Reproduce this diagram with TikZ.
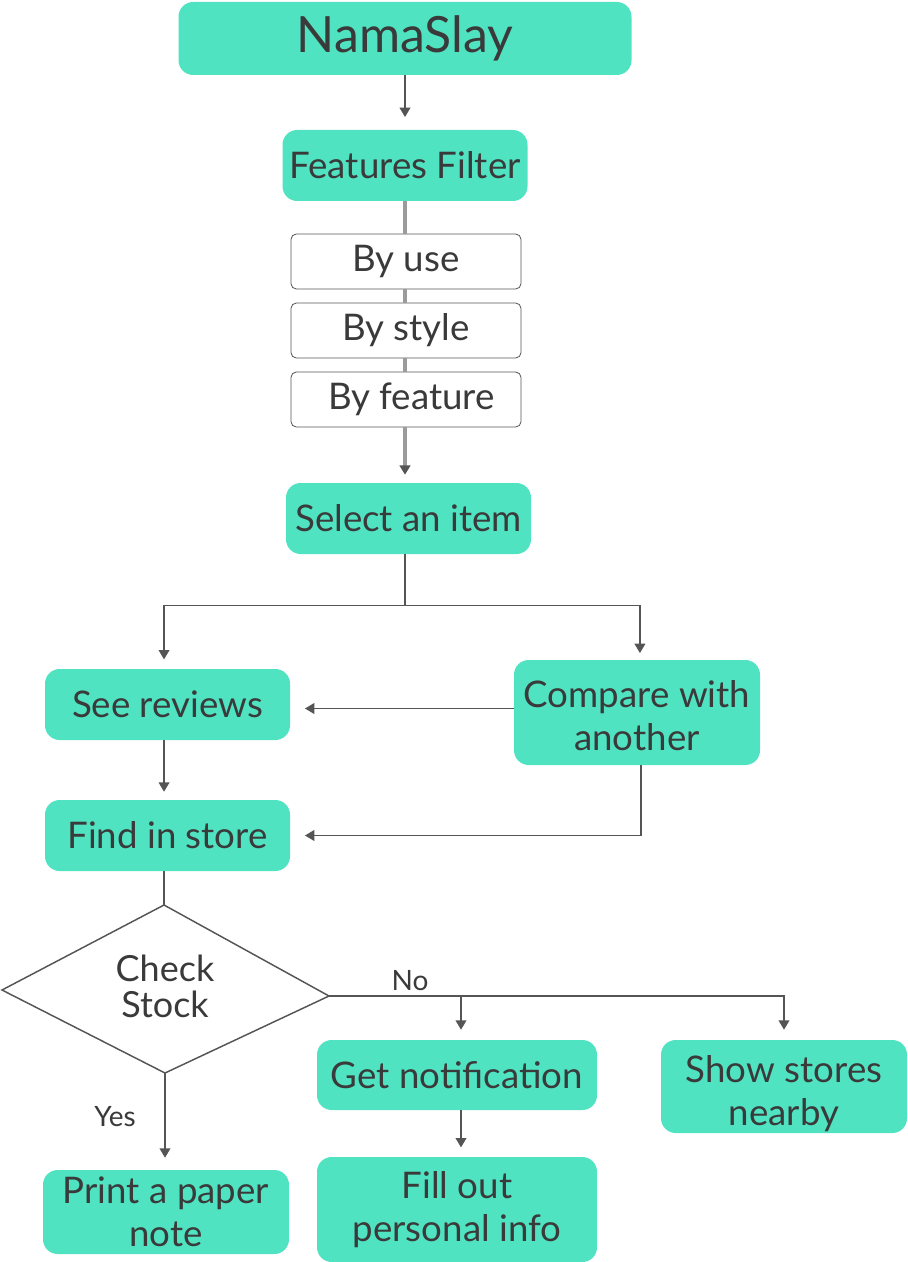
\documentclass[tikz,border=0pt]{standalone}
\usepackage{fontspec}
\setmainfont{Lato}
\usetikzlibrary{arrows.meta}
\definecolor{mint}{HTML}{50E3C2}
\definecolor{txt}{HTML}{3A3A3A}
\definecolor{ln}{HTML}{555555}
\definecolor{gl}{HTML}{9B9B9B}
\begin{document}
\begin{tikzpicture}[x=0.75pt,y=-0.75pt,
  box/.style={fill=mint, rounded corners=11pt, text=txt, align=center, inner sep=0pt,
    font=\fontsize{27.5}{32}\selectfont},
  filt/.style={draw=ln, line width=0.6pt, fill=white, rounded corners=4pt, text=txt, inner sep=0pt,
    font=\fontsize{27.5}{32}\selectfont},
  conn/.style={draw=ln, line width=1.1pt},
  arr/.style={conn, -{Triangle[width=8pt,length=7pt]}},
  gline/.style={draw=gl, line width=2.4pt},
  lbl/.style={text=txt, inner sep=0pt, font=\fontsize{21}{24}\selectfont}]
\useasboundingbox (0,0) rectangle (907,1262);

% nodes
\node[box, minimum width=453*0.75pt, minimum height=73*0.75pt, font=\fontsize{37.5}{40}\selectfont] (nama) at (405,38.5) {NamaSlay};
\node[box, minimum width=245*0.75pt, minimum height=71*0.75pt] (ff) at (405,165.5) {Features Filter};
\node[filt, minimum width=230*0.75pt, minimum height=55*0.75pt] (use) at (406,261.5) {By use};
\node[filt, minimum width=230*0.75pt, minimum height=55*0.75pt] (sty) at (406,330.5) {By style};
\node[filt, minimum width=230*0.75pt, minimum height=55*0.75pt] (fea) at (406,399.5) {\hspace{8pt}By feature};
\node[box, minimum width=245*0.75pt, minimum height=71*0.75pt] (sel) at (408.5,518.5) {Select an item};
\node[box, minimum width=245*0.75pt, minimum height=71*0.75pt] (see) at (167.5,704.5) {See reviews};
\node[box, minimum width=246*0.75pt, minimum height=105*0.75pt] (cmp) at (637,712.5) {\rule{0pt}{25pt}Compare with\\another};
\node[box, minimum width=245*0.75pt, minimum height=71*0.75pt] (find) at (167.5,835.5) {Find in store};
\node[box, minimum width=280*0.75pt, minimum height=70*0.75pt] (getn) at (457,1075) {Get notification};
\node[box, minimum width=280*0.75pt, minimum height=105*0.75pt] (fill) at (457,1209.5) {Fill out\\personal info};
\node[box, minimum width=246*0.75pt, minimum height=93*0.75pt] (show) at (784,1086.5) {\rule{0pt}{31pt}Show stores\\nearby};
\node[box, minimum width=246*0.75pt, minimum height=84*0.75pt] (print) at (166,1212) {Print a paper\\note};

% decision
\coordinate (dT) at (164,905);
\coordinate (dR) at (329,996);
\coordinate (dB) at (165,1073);
\coordinate (dL) at (2,990);
\draw[conn] (dT) -- (dR) -- (dB) -- (dL) -- cycle;
\node[text=txt, align=center, inner sep=0pt, font=\fontsize{27}{27}\selectfont] (chk) at (165,986) {Check\\Stock};

% connectors
\draw[arr, shorten >=9.5pt] (nama.south) -- (ff.north);
\draw[gline] (ff.south) -- (ff.south |- use.north);
\draw[gline] (ff.south |- use.south) -- (ff.south |- sty.north);
\draw[gline] (ff.south |- sty.south) -- (ff.south |- fea.north);
\draw[gline, -{Triangle[width=8pt,length=7pt,color=ln]}, shorten >=6pt] (ff.south |- fea.south) -- (ff.south |- sel.north);

\draw[conn] (sel.south -| ff) -- ++(0,51) coordinate (sj);
\draw[arr, shorten >=7pt] (sj) -| ([xshift=-2.6pt]see.north);
\draw[arr, shorten >=5pt] (sj) -| ([xshift=2.2pt]cmp.north);
\draw[arr, shorten >=11pt] ([yshift=3pt]cmp.west) -- ([yshift=3pt]cmp.west -| see.east);
\draw[arr, shorten >=6pt] ([xshift=-2.6pt]see.south) -- ([xshift=-2.6pt]find.north);
\draw[arr, shorten >=11pt] ([xshift=3pt]cmp.south) |- (find.east);
\draw[conn] (dT |- find.south) -- (dT);

\draw[arr, shorten >=7.5pt] (dR) -| (show.north);
\draw[arr, shorten >=7.5pt] ([xshift=3pt]dR -| getn) -- ([xshift=3pt]getn.north);
\node[lbl] (no) at (410,981) {No};
\draw[arr, shorten >=7pt] ([xshift=3pt]getn.south) -- ([xshift=3pt]fill.north);
\draw[arr, shorten >=9pt] (dB) -- (dB |- print.north);
\node[lbl] (yes) at (115,1117) {Yes};
\end{tikzpicture}
\end{document}
